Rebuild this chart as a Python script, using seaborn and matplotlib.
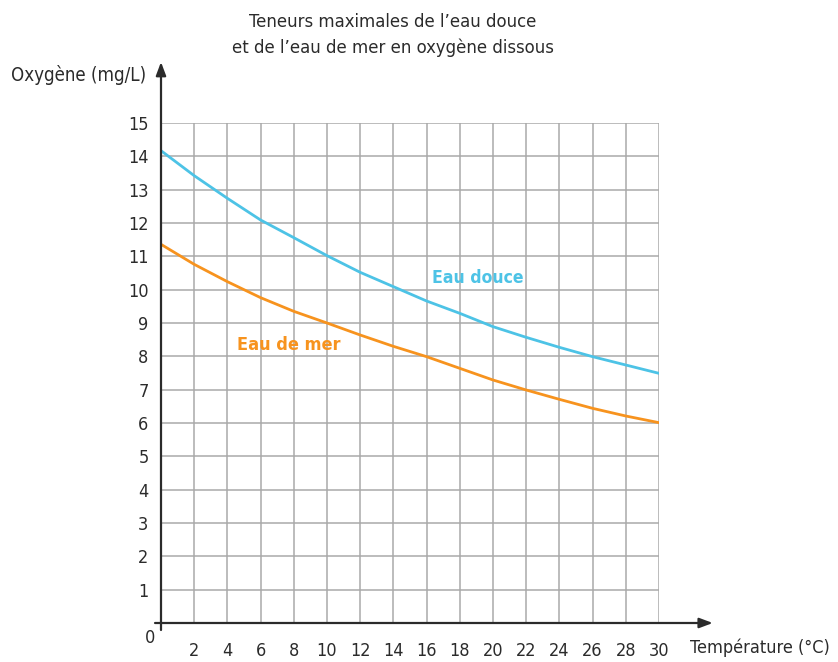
import pandas as pd
import matplotlib
matplotlib.use('Agg')
import matplotlib.pyplot as plt
import seaborn as sns

# Valeurs (température en °C, oxygène en mg/L)
temperature = [0, 2, 4, 6, 8, 10, 12, 14, 16, 18, 20, 22, 24, 26, 28, 30]
eau_douce = [14.17, 13.42, 12.74, 12.09, 11.56, 11.02, 10.52, 10.09,
             9.66, 9.29, 8.89, 8.57, 8.27, 7.99, 7.74, 7.49]
eau_de_mer = [11.36, 10.76, 10.24, 9.76, 9.35, 9.0, 8.64, 8.3,
              7.99, 7.64, 7.29, 6.99, 6.71, 6.44, 6.21, 6.01]
x_ticks = list(range(2, 31, 2))
y_ticks = list(range(1, 16))

df = pd.DataFrame({'Température': temperature * 2,
                   'Oxygène': eau_douce + eau_de_mer,
                   'Eau': ['Eau douce'] * len(temperature) + ['Eau de mer'] * len(temperature)})

sns.set_style('white')
plt.rcParams['font.family'] = ['DejaVu Sans']
plt.rcParams['font.stretch'] = 'condensed'

blue = '#4dc3e6'
orange = '#f7931e'
ink = '#2b2b2b'

fig = plt.figure(figsize=(8.38, 6.62), dpi=100)
ax = fig.add_axes([161 / 838, 1 - 623 / 662, 498 / 838, 500 / 662])

sns.lineplot(data=df, x='Température', y='Oxygène', hue='Eau',
             palette={'Eau douce': blue, 'Eau de mer': orange},
             linewidth=2, legend=False, ax=ax, zorder=3)

ax.set_xlim(0, 30)
ax.set_ylim(0, 15)
ax.set_xticks(x_ticks)
ax.set_yticks(y_ticks)
ax.grid(True, color='#a9a9a9', linewidth=1.1)
for s in ax.spines.values():
    s.set_visible(False)
ax.tick_params(axis='both', direction='out', length=5, width=1.1, color=ink,
               labelsize=13, labelcolor=ink)
ax.tick_params(axis='x', pad=9)
ax.tick_params(axis='y', pad=4)
ax.set_xlabel('')
ax.set_ylabel('')

# axes avec flèches
arrow = dict(arrowstyle='-|>,head_length=0.8,head_width=0.3', color=ink, lw=1.6,
             shrinkA=0, shrinkB=0)
ax.annotate('', xy=(1.108, 0), xytext=(-0.012, 0), xycoords='axes fraction',
            arrowprops=arrow, annotation_clip=False)
ax.annotate('', xy=(0, 1.122), xytext=(0, -0.014), xycoords='axes fraction',
            arrowprops=arrow, annotation_clip=False)

ax.text(-0.012, -0.012, '0', transform=ax.transAxes, ha='right', va='top',
        fontsize=13, color=ink)
ax.text(1.062, -0.05, 'Température (°C)', transform=ax.transAxes, ha='left',
        va='center', fontsize=13, color=ink)
ax.text(-0.03, 1.096, 'Oxygène (mg/L)', transform=ax.transAxes, ha='right',
        va='center', fontsize=13.4, color=ink)

ax.text(16.3, 10.35, 'Eau douce', color=blue, fontsize=12.6, fontweight='bold',
        ha='left', va='center')
ax.text(4.6, 8.35, 'Eau de mer', color=orange, fontsize=13, fontweight='bold',
        ha='left', va='center')

fig.text(393 / 838, 1 - 35 / 662,
         'Teneurs maximales de l’eau douce\net de l’eau de mer en oxygène dissous',
         ha='center', va='center', fontsize=13.2, color=ink, linespacing=1.55)

fig.savefig('out.png', dpi=100)
